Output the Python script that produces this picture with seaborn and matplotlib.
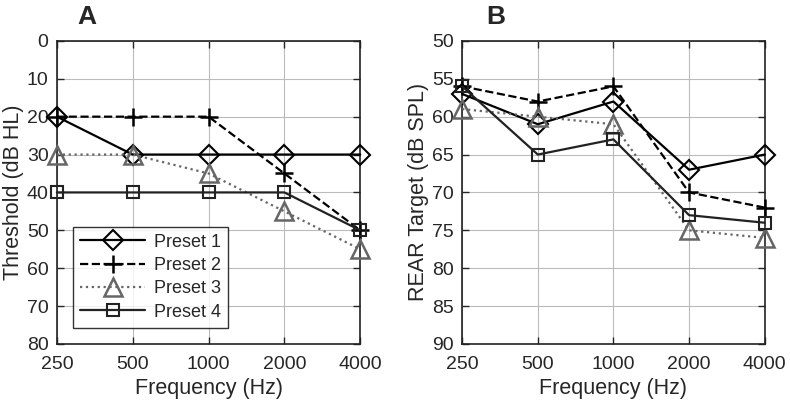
import matplotlib
matplotlib.use('Agg')
import matplotlib.pyplot as plt
import matplotlib.ticker as mticker
import pandas as pd
import seaborn as sns

sns.set_style('ticks')
plt.rcParams['font.family'] = ['Liberation Sans', 'DejaVu Sans']

# Data
freqs = [250, 500, 1000, 2000, 4000]
presets = ['Preset 1', 'Preset 2', 'Preset 3', 'Preset 4']
threshold = {
    'Preset 1': [20, 30, 30, 30, 30],
    'Preset 2': [20, 20, 20, 35, 50],
    'Preset 3': [30, 30, 35, 45, 55],
    'Preset 4': [40, 40, 40, 40, 50],
}
rear_target = {
    'Preset 1': [57, 61, 58, 67, 65],
    'Preset 2': [56, 58, 56, 70, 72],
    'Preset 3': [59, 60, 61, 75, 76],
    'Preset 4': [56, 65, 63, 73, 74],
}

# Styles per preset
styles = {
    'Preset 1': dict(marker='D', ls='-', color='black', ms=10, mew=1.5),
    'Preset 2': dict(marker='+', ls='--', color='black', ms=13, mew=1.8),
    'Preset 3': dict(marker='^', ls=':', color='#666666', ms=13, mew=1.8),
    'Preset 4': dict(marker='s', ls='-', color='#222222', ms=8, mew=1.5),
}

fig = plt.figure(figsize=(7.9, 4.09), dpi=100)
axA = fig.add_axes([0.072, 0.159, 0.384, 0.741])
axB = fig.add_axes([0.585, 0.159, 0.383, 0.741])


def draw_panel(ax, data, ylim, yticks, ylabel, letter, lx):
    for p in presets:
        df = pd.DataFrame({'freq': freqs, 'value': data[p]})
        st = styles[p]
        sns.lineplot(data=df, x='freq', y='value', ax=ax, label=p,
                     color=st['color'], linestyle=st['ls'], linewidth=1.6,
                     marker=st['marker'], markersize=st['ms'],
                     markerfacecolor='none', markeredgecolor=st['color'],
                     markeredgewidth=st['mew'], legend=False, clip_on=False,
                     zorder=3)
    ax.set_xscale('log', base=2)
    ax.set_xlim(250, 4000)
    ax.xaxis.set_major_locator(mticker.FixedLocator(freqs))
    ax.xaxis.set_major_formatter(mticker.FixedFormatter([str(f) for f in freqs]))
    ax.xaxis.set_minor_locator(mticker.NullLocator())
    ax.set_ylim(ylim[1], ylim[0])
    ax.set_yticks(yticks)
    ax.grid(True, color='#bbbbbb', linewidth=0.8)
    ax.tick_params(direction='in', top=True, right=True, labelsize=14, length=5, width=1)
    ax.tick_params(axis='x', pad=9)
    ax.tick_params(axis='y', pad=6)
    for s in ax.spines.values():
        s.set_linewidth(1.2)
        s.set_color('#222222')
    ax.set_xlabel('Frequency (Hz)', fontsize=15.5, labelpad=3)
    ax.set_ylabel(ylabel, fontsize=15.5, labelpad=2)
    ax.text(lx, 1.08, letter, transform=ax.transAxes, fontsize=19,
            fontweight='bold', ha='center', va='center')


draw_panel(axA, threshold, (0, 80), range(0, 81, 10), 'Threshold (dB HL)', 'A', 0.10)
draw_panel(axB, rear_target, (50, 90), range(50, 91, 5), 'REAR Target (dB SPL)', 'B', 0.11)

leg = axA.legend(loc='lower left', bbox_to_anchor=(0.053, 0.053), borderaxespad=0,
                 fontsize=13, frameon=True, fancybox=False, edgecolor='black',
                 handlelength=3.6, labelspacing=0.35, borderpad=0.4, handletextpad=0.5)
leg.get_frame().set_linewidth(1.0)
leg.set_zorder(5)

fig.savefig('out.png', dpi=100)
